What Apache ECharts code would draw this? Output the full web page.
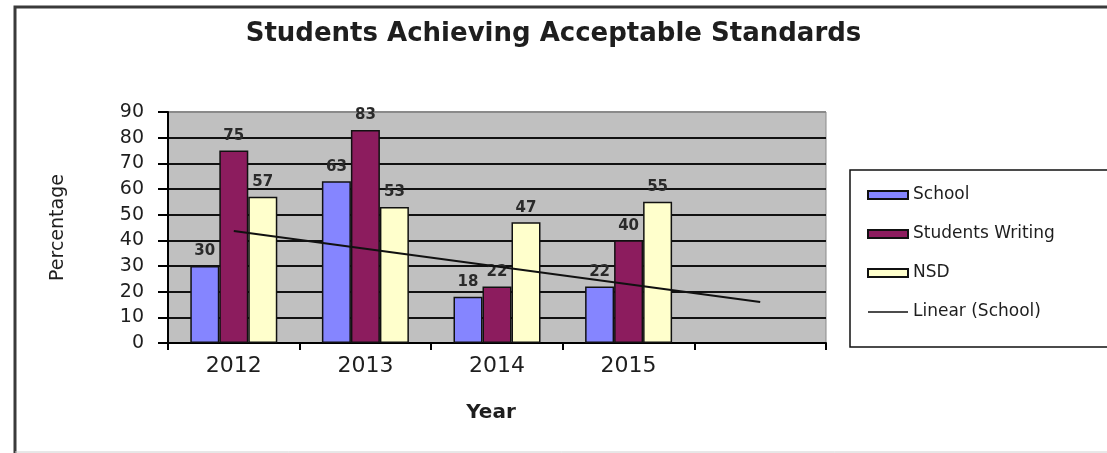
<!DOCTYPE html>
<html>
<head>
<meta charset="utf-8">
<title>Students Achieving Acceptable Standards</title>
<script src="https://cdn.jsdelivr.net/npm/echarts@6/dist/echarts.min.js"></script>
<style>
  html, body { margin: 0; padding: 0; background: #ffffff; }
  #chart { width: 1107px; height: 453px; }
</style>
</head>
<body>
<div id="chart"></div>
<script>
// Year categories; the last slot is left empty so the trendline can run one period forward
const years = ['2012', '2013', '2014', '2015', ''];

// Percentage of students achieving acceptable standards
const schoolValues = [30, 63, 18, 22];
const writingValues = [75, 83, 22, 40];
const nsdValues = [57, 53, 47, 55];

// Value axis
const yMin = 0;
const yMax = 90;
const yStep = 10;

// Least-squares linear trend of the School series, projected across every category slot
function linearTrend(values, count) {
  const n = values.length;
  let sx = 0, sy = 0, sxy = 0, sxx = 0;
  values.forEach((v, i) => {
    const x = i + 1;
    sx += x; sy += v; sxy += x * v; sxx += x * x;
  });
  const slope = (n * sxy - sx * sy) / (n * sxx - sx * sx);
  const intercept = (sy - slope * sx) / n;
  const out = [];
  for (let i = 0; i < count; i++) out.push(+(intercept + slope * (i + 1)).toFixed(2));
  return out;
}
const schoolTrend = linearTrend(schoolValues, years.length);

const FONT = 'DejaVu Sans';
const TEXT = '#1e1e1e';

const barLabel = {
  show: true,
  position: 'top',
  distance: 7,
  fontFamily: FONT,
  fontSize: 15,
  fontWeight: 'bold',
  color: '#2a2a2a'
};

// split lines: black inside the plot, grey along the top edge
const splitColors = [];
for (let v = yMin; v <= yMax; v += yStep) splitColors.push(v === yMax ? '#8a8a8a' : '#111111');

const chart = echarts.init(document.getElementById('chart'), null, { renderer: 'canvas' });

chart.setOption({
  backgroundColor: '#ffffff',
  animation: false,
  title: {
    text: 'Students Achieving Acceptable Standards',
    left: 'center',
    top: 21,
    padding: [0, 0, 0, 20],
    textStyle: {
      fontFamily: FONT,
      fontSize: 26,
      fontWeight: 'bold',
      color: TEXT
    }
  },
  graphic: [
    // chart frame (left and top edges dark, bottom edge faint)
    {
      type: 'polyline',
      silent: true,
      shape: { points: [[15, 453], [15, 7], [1110, 7]] },
      style: { stroke: '#3a3a3a', lineWidth: 3, fill: null }
    },
    {
      type: 'line',
      silent: true,
      shape: { x1: 15, y1: 452, x2: 1110, y2: 452 },
      style: { stroke: '#d0d0d0', lineWidth: 1 }
    }
  ],
  legend: {
    orient: 'vertical',
    left: 850,
    top: 170,
    padding: [15, 70, 25, 17],
    itemGap: 19,
    itemWidth: 40,
    itemHeight: 8,
    borderColor: '#111111',
    borderWidth: 1.5,
    backgroundColor: '#ffffff',
    textStyle: {
      fontFamily: FONT,
      fontSize: 17,
      lineHeight: 20,
      color: TEXT
    },
    data: [
      { name: 'School', icon: 'rect' },
      { name: 'Students Writing', icon: 'rect' },
      { name: 'NSD', icon: 'rect' },
      {
        name: 'Linear (School)',
        icon: 'path://M0,0 L40,0 L40,1.6 L0,1.6 Z',
        itemStyle: { color: '#111111', borderWidth: 0 }
      }
    ]
  },
  grid: {
    left: 168,
    right: 281,
    top: 112,
    bottom: 110,
    show: true,
    backgroundColor: '#c0c0c0',
    borderColor: '#8a8a8a',
    borderWidth: 1,
    containLabel: false
  },
  xAxis: {
    type: 'category',
    data: years,
    boundaryGap: true,
    name: 'Year',
    nameLocation: 'middle',
    nameGap: 60,
    nameTextStyle: {
      fontFamily: FONT,
      fontSize: 20,
      fontWeight: 'bold',
      color: TEXT,
      padding: [0, 12, 0, 0]
    },
    axisLine: { show: true, lineStyle: { color: '#000000', width: 2 } },
    axisTick: { show: true, length: 7, lineStyle: { color: '#000000', width: 2 } },
    axisLabel: {
      fontFamily: FONT,
      fontSize: 22,
      color: TEXT,
      margin: 12
    },
    splitLine: { show: false }
  },
  yAxis: {
    type: 'value',
    min: yMin,
    max: yMax,
    interval: yStep,
    name: 'Percentage',
    nameLocation: 'middle',
    nameRotate: 90,
    nameGap: 100,
    nameTextStyle: {
      fontFamily: FONT,
      fontSize: 19,
      color: TEXT
    },
    axisLine: { show: true, lineStyle: { color: '#000000', width: 2 } },
    axisTick: { show: true, length: 10, lineStyle: { color: '#000000', width: 2 } },
    axisLabel: {
      fontFamily: FONT,
      fontSize: 19,
      color: TEXT,
      margin: 24
    },
    splitLine: { show: true, lineStyle: { color: splitColors, width: 2 } }
  },
  series: [
    {
      name: 'School',
      type: 'bar',
      data: schoolValues,
      barWidth: 29,
      barGap: '0%',
      itemStyle: { color: '#8585ff', borderColor: '#111111', borderWidth: 1.5 },
      label: barLabel
    },
    {
      name: 'Students Writing',
      type: 'bar',
      data: writingValues,
      barWidth: 29,
      barGap: '0%',
      itemStyle: { color: '#8c1c5e', borderColor: '#111111', borderWidth: 1.5 },
      label: barLabel
    },
    {
      name: 'NSD',
      type: 'bar',
      data: nsdValues,
      barWidth: 29,
      barGap: '0%',
      itemStyle: { color: '#ffffcc', borderColor: '#111111', borderWidth: 1.5 },
      label: barLabel
    },
    {
      name: 'Linear (School)',
      type: 'line',
      data: schoolTrend,
      symbol: 'none',
      showSymbol: false,
      smooth: false,
      z: 5,
      itemStyle: { color: '#111111' },
      lineStyle: { color: '#111111', width: 2 }
    }
  ]
});
</script>
</body>
</html>
